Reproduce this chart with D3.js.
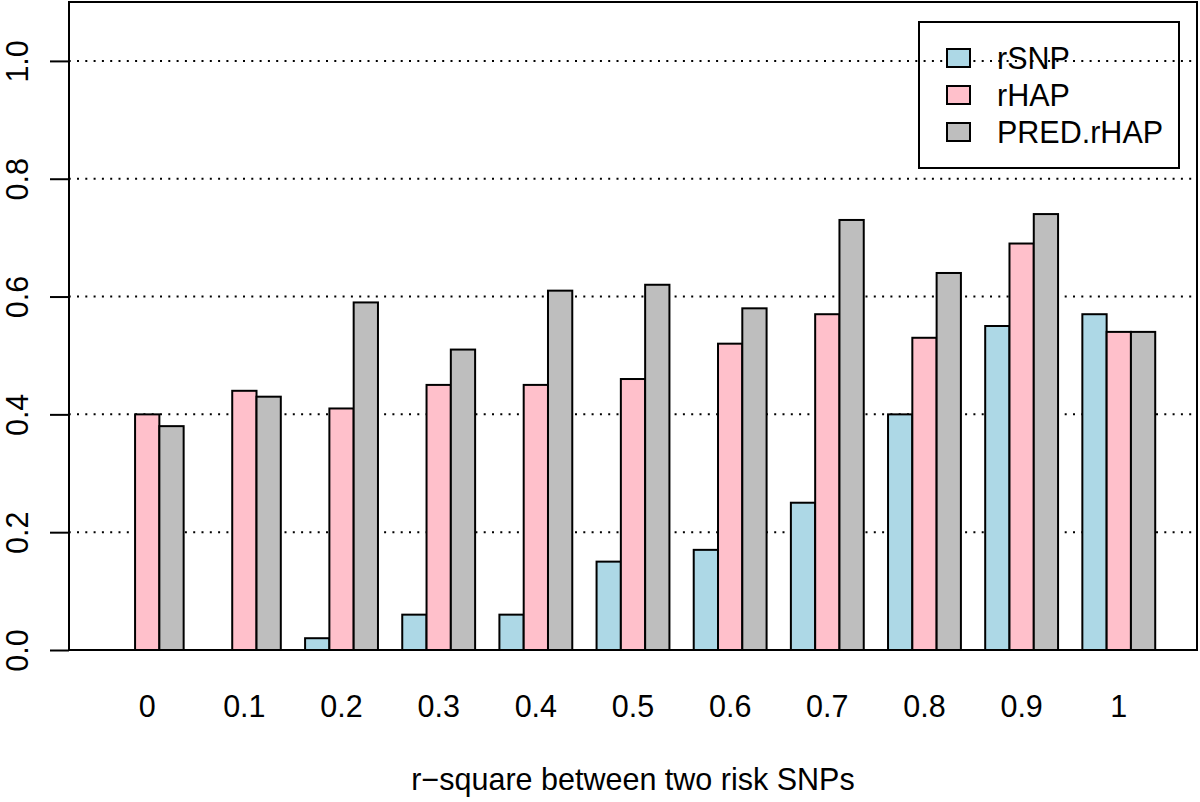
<!DOCTYPE html>
<html>
<head>
<meta charset="utf-8">
<script src="https://cdn.jsdelivr.net/npm/d3@7"></script>
<style>
  html, body { margin: 0; padding: 0; background: #fff; }
  svg { display: block; font-family: "Liberation Sans", Arial, Helvetica, sans-serif; }
</style>
</head>
<body>
<svg id="chart" width="1200" height="802"></svg>
<script>
// ---- data ----
const categories = ["0", "0.1", "0.2", "0.3", "0.4", "0.5", "0.6", "0.7", "0.8", "0.9", "1"];
const seriesNames = ["rSNP", "rHAP", "PRED.rHAP"];
const rSNP = [0, 0, 0.02, 0.06, 0.06, 0.15, 0.17, 0.25, 0.40, 0.55, 0.57];
const rHAP = [0.40, 0.44, 0.41, 0.45, 0.45, 0.46, 0.52, 0.57, 0.53, 0.69, 0.54];
const predRHAP = [0.38, 0.43, 0.59, 0.51, 0.61, 0.62, 0.58, 0.73, 0.64, 0.74, 0.54];
const yTicks = [0, 0.2, 0.4, 0.6, 0.8, 1.0];
const gridValues = [0.2, 0.4, 0.6, 0.8, 1.0];
const colors = ["#ADD8E6", "#FFC0CB", "#BEBEBE"];
const xLabel = "r\u2212square between two risk SNPs";

const seriesValues = [rSNP, rHAP, predRHAP];

// ---- layout ----
const plot = { left: 69, right: 1197, top: 2, bottom: 650 };
const nGroups = categories.length;
const nSeries = seriesNames.length;
// R barplot beside=TRUE, space=c(0,1): each group = 1 gap + 3 bars
const unitsLo = 1, unitsHi = nGroups * (nSeries + 1);
const pad = (unitsHi - unitsLo) * 0.04;

const x = d3.scaleLinear().domain([unitsLo - pad, unitsHi + pad]).range([plot.left, plot.right]);
const y = d3.scaleLinear().domain([0, 1.1]).range([plot.bottom, plot.top]);

const svg = d3.select("#chart");
const FS = 30.5;

// gridlines (dotted)
svg.append("g").selectAll("line").data(gridValues).join("line")
  .attr("x1", plot.left).attr("x2", plot.right)
  .attr("y1", d => y(d)).attr("y2", d => y(d))
  .attr("stroke", "#000").attr("stroke-width", 2)
  .attr("stroke-dasharray", "2,6.3").attr("stroke-dashoffset", -8);

// bars
const bars = [];
seriesValues.forEach((vals, s) => {
  vals.forEach((v, g) => {
    bars.push({ g, s, v, left: g * (nSeries + 1) + 1 + s });
  });
});
svg.append("g").selectAll("rect").data(bars).join("rect")
  .attr("x", d => x(d.left))
  .attr("width", d => x(d.left + 1) - x(d.left))
  .attr("y", d => y(d.v))
  .attr("height", d => y(0) - y(d.v))
  .attr("fill", d => colors[d.s])
  .attr("stroke", "#000").attr("stroke-width", 2);

// box
svg.append("rect")
  .attr("x", plot.left).attr("y", plot.top)
  .attr("width", plot.right - plot.left).attr("height", plot.bottom - plot.top)
  .attr("fill", "none").attr("stroke", "#000").attr("stroke-width", 2);

// y axis
const yAxis = d3.axisLeft(y).tickValues(yTicks).tickSize(19).tickPadding(0)
  .tickFormat(d3.format(".1f"));
const yg = svg.append("g").attr("transform", `translate(${plot.left},0)`).call(yAxis);
yg.select(".domain").remove();
yg.selectAll(".tick line").attr("stroke", "#000").attr("stroke-width", 2);
yg.selectAll(".tick text")
  .attr("x", 0).attr("dy", null)
  .attr("font-size", FS).attr("font-family", "Liberation Sans, Arial, sans-serif")
  .attr("fill", "#000")
  .attr("text-anchor", "middle")
  .attr("transform", "translate(-41,0) rotate(-90)")
  .attr("y", 0);

// x category labels
const xCenter = g => g * (nSeries + 1) + 1 + nSeries / 2;
svg.append("g").selectAll("text").data(categories).join("text")
  .attr("x", (d, i) => x(xCenter(i)))
  .attr("y", 717)
  .attr("text-anchor", "middle")
  .attr("font-size", FS)
  .attr("fill", "#000")
  .text(d => d);

// x axis title
svg.append("text")
  .attr("x", (plot.left + plot.right) / 2)
  .attr("y", 790)
  .attr("text-anchor", "middle")
  .attr("font-size", FS)
  .attr("fill", "#000")
  .text(xLabel);

// legend
const leg = svg.append("g");
leg.append("rect").attr("x", 919).attr("y", 22).attr("width", 260).attr("height", 146)
  .attr("fill", "none").attr("stroke", "#000").attr("stroke-width", 2);
const legY = d3.scalePoint().domain(seriesNames).range([58, 132]);
const items = leg.selectAll("g.item").data(seriesNames).join("g").attr("class", "item");
items.append("rect")
  .attr("x", 947).attr("y", d => legY(d) - 9)
  .attr("width", 23).attr("height", 18)
  .attr("fill", (d, i) => colors[i])
  .attr("stroke", "#000").attr("stroke-width", 2);
items.append("text")
  .attr("x", 997).attr("y", d => legY(d) + 10.5)
  .attr("font-size", FS).attr("fill", "#000")
  .text(d => d);
</script>
</body>
</html>
